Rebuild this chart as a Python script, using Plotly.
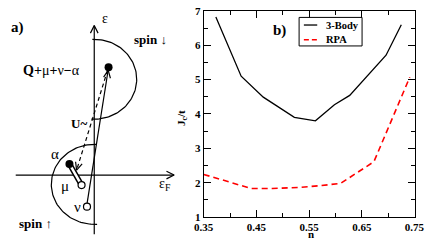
import numpy as np
import plotly.graph_objects as go

# ---------------- data (panel b) ----------------
n_3body = [0.373, 0.421, 0.463, 0.522, 0.562, 0.598, 0.627, 0.696, 0.725]
jc_3body = [6.82, 5.10, 4.49, 3.90, 3.80, 4.27, 4.54, 5.71, 6.60]
n_rpa = [0.35, 0.44, 0.48, 0.53, 0.57, 0.61, 0.673, 0.741]
jc_rpa = [2.24, 1.83, 1.83, 1.86, 1.91, 1.98, 2.61, 5.07]

x_tickvals = [0.35, 0.45, 0.55, 0.65, 0.75]
x_ticktext = ["0.35", "0.45", "0.55", "0.65", "0.75"]
x_minor = [0.40, 0.50, 0.60, 0.70]
y_tickvals = [1, 2, 3, 4, 5, 6, 7]
y_ticktext = ["1", "2", "3", "4", "5", "6", "7"]
y_minor = [1.5, 2.5, 3.5, 4.5, 5.5, 6.5]

series_names = ["3-Body", "RPA"]

W, H = 436, 246
SERIF = "Liberation Serif"

# ---------------- diagram geometry (panel a, pixel units) ----------------
AX_X = 88.3          # energy axis x
AX_Y = 177.7         # Fermi axis y
up_c, up_rx, up_ry = 77.0, 44.5, 42.0      # spin-down half disc
lo_c, lo_rx, lo_ry = 187.5, 45.0, 42.0     # spin-up half disc
dot_Q = (103.3, 64.5)
dot_alpha = (62.3, 166.0)
dot_mu = (75.0, 188.3)
dot_nu = (80.7, 211.0)
dash_tip = (69.8, 172.5)

fig = go.Figure()

# main curves
fig.add_trace(go.Scatter(x=n_3body, y=jc_3body, mode="lines", name=series_names[0],
                         line=dict(color="black", width=1.3), showlegend=False,
                         xaxis="x", yaxis="y"))
fig.add_trace(go.Scatter(x=n_rpa, y=jc_rpa, mode="lines", name=series_names[1],
                         line=dict(color="#ff0000", width=1.6, dash="6px,4px"), showlegend=False,
                         xaxis="x", yaxis="y"))


def dline(xs, ys, width=1.2, dash=None, color="black"):
    ln = dict(color=color, width=width)
    if dash:
        ln["dash"] = dash
    fig.add_trace(go.Scatter(x=xs, y=ys, mode="lines", line=ln, showlegend=False,
                             hoverinfo="skip", xaxis="x2", yaxis="y2"))


def vhead(tip, frm, L=8.0, Wd=3.6):
    d = np.array(tip) - np.array(frm)
    d = d / np.hypot(*d)
    p = np.array([-d[1], d[0]])
    b = np.array(tip) - L * d
    a1 = b + Wd * p
    a2 = b - Wd * p
    dline([a1[0], tip[0], a2[0]], [a1[1], tip[1], a2[1]])


# axes of diagram
dline([AX_X, AX_X], [240, 20.5])
vhead((AX_X, 20.5), (AX_X, 40), L=8, Wd=4)
dline([6, 172], [AX_Y, AX_Y])
vhead((172, AX_Y), (150, AX_Y), L=8, Wd=4)

# half discs
t = np.linspace(-np.pi / 2, np.pi / 2, 80)
ux = [AX_X - 2] + list(AX_X + up_rx * np.cos(t)) + [AX_X - 3]
uy = [up_c - up_ry] + list(up_c + up_ry * np.sin(t)) + [up_c + up_ry]
dline(ux, uy)
lx = [AX_X + 2] + list(AX_X - lo_rx * np.cos(t)) + [AX_X + 3]
ly = [lo_c - lo_ry] + list(lo_c + lo_ry * np.sin(t)) + [lo_c + lo_ry]
dline(lx, ly)

# solid arrow nu -> Q
dline([dot_nu[0], dot_Q[0] - 0.3], [dot_nu[1] - 3, dot_Q[1] + 2])
vhead((dot_Q[0] - 0.4, dot_Q[1] + 3), dot_nu)
# dashed arrow Q -> alpha/mu
dline([dot_Q[0] - 1, dash_tip[0]], [dot_Q[1] + 3, dash_tip[1]], dash="4px,3px")
vhead(dash_tip, dot_Q)
# double bar alpha - mu
dline([dot_alpha[0], dot_mu[0]], [dot_alpha[1], dot_mu[1]], width=5.5)
dline([dot_alpha[0] + 1.5, dot_mu[0]], [dot_alpha[1] + 2.5, dot_mu[1]], width=2.5, color="white")

# dots
fig.add_trace(go.Scatter(x=[dot_Q[0], dot_alpha[0]], y=[dot_Q[1], dot_alpha[1]], mode="markers",
                         marker=dict(size=8, color="black"), showlegend=False, hoverinfo="skip",
                         xaxis="x2", yaxis="y2"))
fig.add_trace(go.Scatter(x=[dot_mu[0], dot_nu[0]], y=[dot_mu[1], dot_nu[1]], mode="markers",
                         marker=dict(size=7, color="white", line=dict(color="black", width=1.2)),
                         showlegend=False, hoverinfo="skip", xaxis="x2", yaxis="y2"))

# legend box (pixel units)
lg_x0, lg_x1, lg_y0, lg_y1 = 303, 369, 12, 42
fig.add_shape(type="rect", xref="x2", yref="y2", x0=lg_x0, x1=lg_x1, y0=lg_y0, y1=lg_y1,
              line=dict(color="black", width=1), fillcolor="white", layer="above")
fig.add_shape(type="line", xref="x2", yref="y2", x0=308, x1=322, y0=20, y1=20,
              line=dict(color="black", width=1.3), layer="above")
fig.add_shape(type="line", xref="x2", yref="y2", x0=308, x1=323, y0=35.5, y1=35.5,
              line=dict(color="#ff0000", width=1.6, dash="5px,3px"), layer="above")


def txt(s, x, y, size=13, bold=True, xanchor="center", angle=0, family=SERIF):
    fig.add_annotation(text=s, x=x, y=y, xref="x2", yref="y2", showarrow=False,
                       xanchor=xanchor, yanchor="middle", textangle=angle,
                       font=dict(family=family, size=size, color="black",
                                 weight="bold" if bold else "normal"))


txt(series_names[0], 329, 20, size=10.5, xanchor="left")
txt(series_names[1], 329, 35.5, size=10.5, xanchor="left")
txt("b)", 282, 26, size=15)
txt("a)", 8, 23, size=15)
txt("J<sub>c</sub>/t", 180, 118, size=11, angle=-90)
txt("n", 315, 240, size=11)

txt("ε", 100, 13, size=14, bold=False)
txt("ε<sub>F</sub>", 162, 188, size=14, bold=False)
txt("spin ↓", 147, 35, size=13)
txt("spin ↑", 27, 229, size=13)
txt("<b>Q+</b>μ<b>+</b>ν<b>−</b>α", 43, 68, size=14, bold=False)
txt("U~", 72, 124, size=13)
txt("α", 47, 156, size=15, bold=False)
txt("μ", 58, 189, size=15, bold=False)
txt("ν", 71, 211, size=15, bold=False)

tickfont = dict(family=SERIF, size=11, color="black", weight="bold")
fig.update_layout(
    width=W, height=H, margin=dict(l=0, r=0, t=0, b=0),
    paper_bgcolor="white", plot_bgcolor="rgba(0,0,0,0)", showlegend=False,
    xaxis=dict(domain=[203 / W, 424 / W], range=[0.3499, 0.7501], anchor="y",
               showline=True, linecolor="black", linewidth=1, mirror="ticks",
               ticks="inside", ticklen=7, tickwidth=1, tickcolor="black",
               tickvals=x_tickvals, ticktext=["<b>%s</b>" % s for s in x_ticktext],
               tickfont=tickfont, showgrid=False, zeroline=False, ticklabeloverflow="allow",
               minor=dict(ticks="inside", ticklen=4, tickvals=x_minor, tickcolor="black",
                          showgrid=False)),
    yaxis=dict(domain=[1 - 222 / H, 1 - 5 / H], range=[0.995, 7.005], anchor="x",
               showline=True, linecolor="black", linewidth=1, mirror="ticks",
               ticks="inside", ticklen=7, tickwidth=1, tickcolor="black",
               tickvals=y_tickvals, ticktext=["<b>%s</b>" % s for s in y_ticktext],
               tickfont=tickfont, showgrid=False, zeroline=False, ticklabeloverflow="allow",
               minor=dict(ticks="inside", ticklen=4, tickvals=y_minor, tickcolor="black",
                          showgrid=False)),
    xaxis2=dict(domain=[0, 1], range=[0, W], anchor="y2", visible=False, fixedrange=True),
    yaxis2=dict(domain=[0, 1], range=[H, 0], anchor="x2", visible=False, fixedrange=True),
)

fig.write_html("out.html", config={"displayModeBar": False},
               post_script="document.body.style.margin='0px';")
